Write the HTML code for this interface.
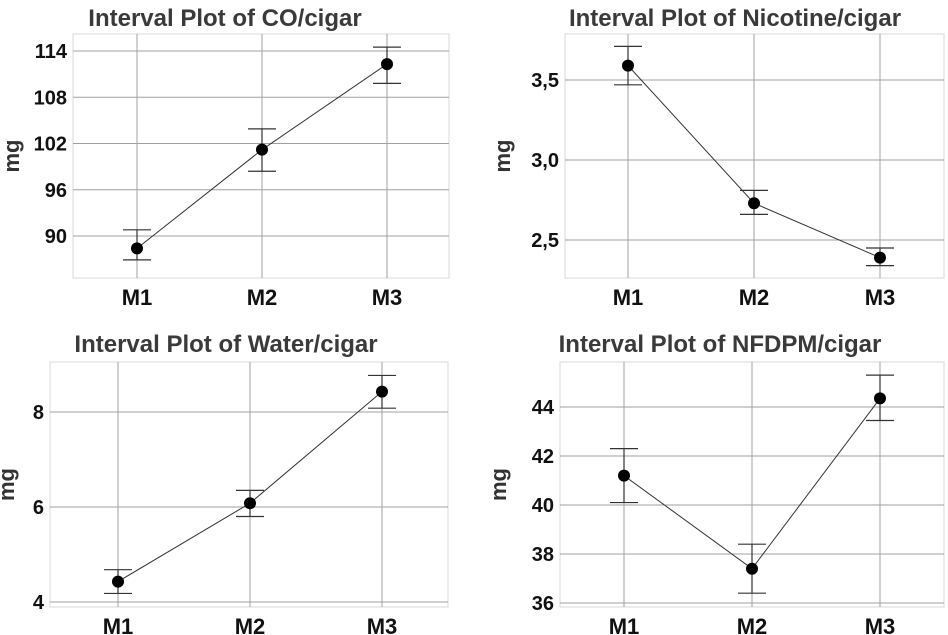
<!DOCTYPE html>
<html><head><meta charset="utf-8"><style>
body{margin:0;background:#fff;width:948px;height:635px;overflow:hidden}
svg{display:block;font-family:"Liberation Sans",sans-serif}
</style></head><body>
<svg id="c" width="948" height="635"></svg>
<script>
const categories=["M1","M2","M3"];
const coMean=[88.4,101.2,112.3], coUp=[90.8,103.9,114.5], coLo=[86.9,98.4,109.8], coTicks=[90,96,102,108,114];
const nicMean=[3.59,2.73,2.39], nicUp=[3.71,2.81,2.45], nicLo=[3.47,2.66,2.34], nicTicks=[2.5,3.0,3.5];
const watMean=[4.43,6.08,8.43], watUp=[4.68,6.35,8.77], watLo=[4.18,5.80,8.08], watTicks=[4,6,8];
const nfMean=[41.2,37.4,44.35], nfUp=[42.3,38.4,45.3], nfLo=[40.1,36.4,43.45], nfTicks=[36,38,40,42,44];
const NS="http://www.w3.org/2000/svg", svg=document.getElementById('c');
function el(t,a,p){const e=document.createElementNS(NS,t);for(const k in a)e.setAttribute(k,a[k]);(p||svg).appendChild(e);return e;}
function panel(o){
  const g=el('g',{});
  
  
  const {x0,x1,y0,y1,vmin,vmax,xs}=o;
  const ys=v=>y1-(v-vmin)/(vmax-vmin)*(y1-y0);
  const xc=i=>xs[0]+i*(xs[1]-xs[0]);
  el('rect',{x:x0,y:y0,width:x1-x0,height:y1-y0,fill:'#fff',stroke:'#d8d8d8'},g);
  o.ticks.forEach(t=>{
    el('line',{x1:x0,x2:x1,y1:ys(t),y2:ys(t),stroke:'#a0a0a0','stroke-width':1},g);
    const tx=el('text',{x:x0-6,y:ys(t)+7,'text-anchor':'end','font-size':20,'font-weight':'bold',fill:'#111'},g);
    tx.textContent=o.fmt?o.fmt(t):t;
    
    
  });
  categories.forEach((c,i)=>{
    el('line',{x1:xc(i),x2:xc(i),y1:y0,y2:y1,stroke:'#a0a0a0'},g);
    const tx=el('text',{x:xc(i),y:y1+27,'text-anchor':'middle','font-size':22,'font-weight':'bold',fill:'#111'},g);
    tx.textContent=c;
    
    
  });
  const pts=o.mean.map((v,i)=>xc(i)+','+ys(v)).join(' ');
  const pl=el('polyline',{points:pts,fill:'none',stroke:'#333','stroke-width':1},g);
  
  
  o.mean.forEach((v,i)=>{
    const x=xc(i);
    const eb=el('path',{d:`M${x},${ys(o.up[i])}V${ys(o.lo[i])}M${x-14},${ys(o.up[i])}h28M${x-14},${ys(o.lo[i])}h28`,stroke:'#333','stroke-width':1.2,fill:'none'},g);
    
    
    const c=el('circle',{cx:x,cy:ys(v),r:6,fill:'#000'},g);
    
    
  });
  const t=el('text',{x:o.tx,y:o.ty,'text-anchor':'middle','font-size':24,'font-weight':'bold',fill:'#3a3a3a'},g);
  t.textContent=o.title;
  
  
  const yl=el('text',{x:0,y:0,'text-anchor':'middle','font-size':22,'font-weight':'bold',fill:'#333',transform:`translate(${o.ylx},${(y0+y1)/2}) rotate(-90)`},g);
  yl.textContent='mg';
  
  
}
function sc(y0,y1,vA,pA,vB,pB){const k=(pB-pA)/(vB-vA);return {vmin:vA+(y1-pA)/k,vmax:vA+(y0-pA)/k};}
let s=sc(34,278,90,236,114,51);
panel({name:'co-panel',title:'Interval Plot of CO/cigar',tx:225,ty:26,x0:73,x1:449,y0:34,y1:278,vmin:s.vmin,vmax:s.vmax,xs:[137,262],ticks:coTicks,mean:coMean,up:coUp,lo:coLo,ylx:19});
s=sc(34,278,2.5,240,3.5,80);
panel({name:'nicotine-panel',title:'Interval Plot of Nicotine/cigar',tx:735,ty:26,x0:565,x1:944,y0:34,y1:278,vmin:s.vmin,vmax:s.vmax,xs:[628,754],ticks:nicTicks,mean:nicMean,up:nicUp,lo:nicLo,ylx:510,fmt:v=>v.toFixed(1).replace('.',',')});
s=sc(362,607,4,602,8,412);
panel({name:'water-panel',title:'Interval Plot of Water/cigar',tx:226,ty:352,x0:50,x1:448,y0:362,y1:607,vmin:s.vmin,vmax:s.vmax,xs:[118,250],ticks:watTicks,mean:watMean,up:watUp,lo:watLo,ylx:14});
s=sc(362,607,36,603,44,407);
panel({name:'nfdpm-panel',title:'Interval Plot of NFDPM/cigar',tx:720,ty:352,x0:560,x1:944,y0:362,y1:607,vmin:s.vmin,vmax:s.vmax,xs:[624,752],ticks:nfTicks,mean:nfMean,up:nfUp,lo:nfLo,ylx:506});
</script>
</body></html>
